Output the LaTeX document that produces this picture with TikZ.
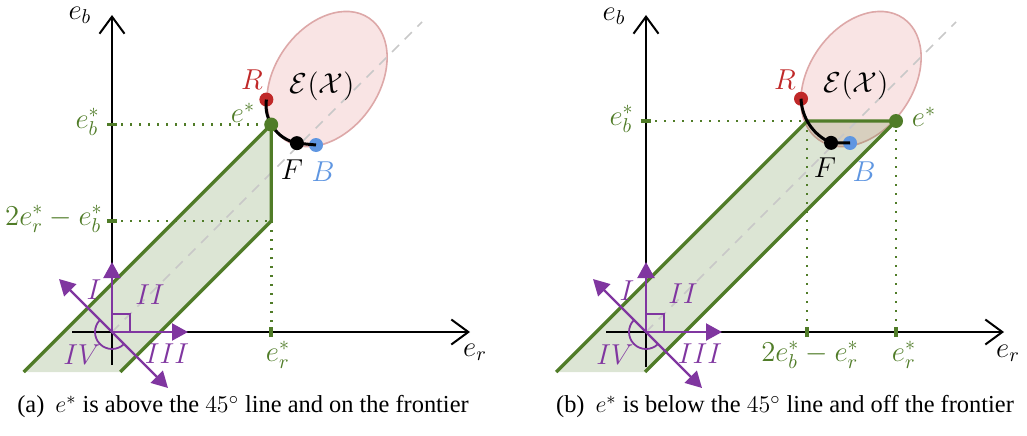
\documentclass[tikz,border=0pt]{standalone}
\usepackage[no-math]{fontspec}
\setmainfont{Liberation Serif}
\usetikzlibrary{arrows.meta,shapes.geometric}
\definecolor{egreen}{RGB}{80,124,40}
\definecolor{ered}{RGB}{192,40,40}
\definecolor{eblue}{RGB}{95,150,225}
\definecolor{epurple}{RGB}{128,54,160}
\definecolor{epinkfill}{RGB}{249,228,228}
\definecolor{epinkdraw}{RGB}{221,168,168}
\definecolor{egray}{RGB}{200,200,200}
\begin{document}
\begin{tikzpicture}[x=0.5pt,y=0.5pt,
  axisline/.style={line width=1pt,-{Straight Barb[length=8.5pt,width=12.5pt,line width=1pt]}},
  setell/.style={ellipse,draw=epinkdraw,fill=epinkfill,line width=0.8pt,rotate=55,minimum width=74pt,minimum height=52pt,inner sep=0pt},
  regfill/.style={fill=egreen,fill opacity=0.2},
  regline/.style={draw=egreen,line width=1.7pt,line join=miter},
  diag/.style={draw=egray,line width=0.8pt,dash pattern=on 5pt off 4pt},
  dotline/.style={draw=egreen,line width=1.3pt,dash pattern=on 1pt off 3.5pt},
  tickmark/.style={draw=egreen,line width=1.8pt},
  frontier/.style={draw=black,line width=1.5pt},
  pdot/.style={circle,fill=#1,inner sep=0pt,minimum size=7pt},
  parrow/.style={draw=epurple,line width=1.1pt,-{Triangle[length=8pt,width=8.5pt]}},
  pline/.style={draw=epurple,line width=0.9pt},
  lab/.style={font=\fontsize{14}{16}\selectfont,inner sep=0pt},
  plab/.style={lab,text=epurple},
  glab/.style={lab,text=egreen},
  captext/.style={font=\fontsize{12.2}{15}\selectfont,inner sep=0pt}
]
\useasboundingbox (0,0) rectangle (1027,435);

%================ panel (a) ================
\begin{scope}[shift={(112,103)}]
\coordinate (aO) at (0,0);
\node[setell] (aEll) at (215,253) {};
\coordinate (aK) at (159.2,110.9);
\coordinate (aP) at (8.3,-40);
\coordinate (aQ) at (-88.3,-40);
\coordinate (aE0) at (159.2,207.5);
\fill[regfill] (aE0) -- (aK) -- (aP) -- (aQ) -- cycle;
\draw[diag] (aO) -- (310,310);
\draw[axisline] (0,-33) -- (0,317);
\draw[axisline] (-40,0) -- (358,0);
\draw[dotline] (0,207.5) -- (aE0);
\draw[dotline] (0,110.9) -- (aK);
\draw[dotline] (aK) -- (159.2,0);
\draw[tickmark] (-5,207.5) -- (5,207.5);
\draw[tickmark] (-5,110.9) -- (5,110.9);
\draw[tickmark] (159.2,-5) -- (159.2,5);
\draw[regline] (aE0) -- (aK) -- (aP) (aQ) -- (aE0);
\node[pdot=ered] (aR) at (154.38,232.43) {};
\node[pdot=black] (aF) at (184.89,188.85) {};
\node[pdot=eblue] (aB) at (204,187) {};
\draw[frontier] (aR.center) arc[start angle=172,end angle=258,radius=19.5pt] -- (aB.center);
\node[pdot=egreen] (aE) at (aE0) {};
% purple
\draw[parrow] (aO) -- (0,70);
\draw[parrow] (aO) -- (76,0);
\draw[parrow] (aO) -- (-53,53);
\draw[parrow] (aO) -- (56,-56);
\draw[pline] (aO) rectangle (18,18);
\draw[pline] (135:17) arc[start angle=135,end angle=315,radius=8.5pt];
\node[plab] (aI) at (-18,42) {$I$};
\node[plab] (aII) at (38,37) {$II$};
\node[plab] (aIII) at (55,-22) {$III$};
\node[plab] (aIV) at (-30,-23) {$IV$};
% labels
\node[lab] (aeb) at (-32,317) {$e_b$};
\node[lab] (aer) at (363,-20) {$e_r$};
\node[lab] (aSet) at (210,246) {\fontsize{15}{17}\selectfont$\mathcal{E}(\mathcal{X})$};
\node[lab,text=ered] (aRl) at (140,252) {$R$};
\node[glab] (aEl) at (131,219) {$e^*$};
\node[lab] (aFl) at (180,162) {$F$};
\node[lab,text=eblue] (aBl) at (211,160) {$B$};
\node[glab,anchor=east] (aebs) at (-12,210) {$e_b^*$};
\node[glab,anchor=east] (a2) at (-9,113) {$2e_r^*-e_b^*$};
\node[glab,anchor=north] (aers) at (166,-9) {$e_r^*$};
\end{scope}
\node[captext] (capa) at (243,28) {(a)\hspace{0.45em}$e^*$ is above the $45^\circ$ line and on the frontier};

%================ panel (b) ================
\begin{scope}[shift={(646,103)}]
\coordinate (bO) at (0,0);
\node[setell] (bEll) at (215,253) {};
\coordinate (bL) at (161.14,211);
\coordinate (bE0) at (250,211);
\coordinate (bP) at (-1,-40);
\coordinate (bQ) at (-89.86,-40);
\fill[regfill] (bL) -- (bE0) -- (bP) -- (bQ) -- cycle;
\draw[diag] (bO) -- (310,310);
\draw[axisline] (0,-35) -- (0,317);
\draw[axisline] (-40,0) -- (358,0);
\draw[dotline] (0,211) -- (bL);
\draw[dotline] (bL) -- (161.14,0);
\draw[dotline] (bE0) -- (250,0);
\draw[tickmark] (-5,211) -- (5,211);
\draw[tickmark] (161.14,-5) -- (161.14,5);
\draw[tickmark] (250,-5) -- (250,5);
\draw[regline] (bL) -- (bE0) -- (bP) (bQ) -- (bL);
\node[pdot=ered] (bR) at (155.03,233.26) {};
\node[pdot=black] (bF) at (185.06,189.14) {};
\node[pdot=eblue] (bB) at (204,189) {};
\draw[frontier] (bR.center) arc[start angle=182,end angle=246.5,radius=25pt] -- (bB.center);
\node[pdot=egreen] (bE) at (bE0) {};
% purple
\draw[parrow] (bO) -- (0,70);
\draw[parrow] (bO) -- (76,0);
\draw[parrow] (bO) -- (-53,53);
\draw[parrow] (bO) -- (56,-56);
\draw[pline] (bO) rectangle (18,18);
\draw[pline] (135:17) arc[start angle=135,end angle=315,radius=8.5pt];
\node[plab] (bI) at (-19,41) {$I$};
\node[plab] (bII) at (37,38) {$II$};
\node[plab] (bIII) at (54,-22) {$III$};
\node[plab] (bIV) at (-31,-23) {$IV$};
% labels
\node[lab] (beb) at (-32,316) {$e_b$};
\node[lab] (ber) at (362,-21) {$e_r$};
\node[lab] (bSet) at (210,247) {\fontsize{15}{17}\selectfont$\mathcal{E}(\mathcal{X})$};
\node[lab,text=ered] (bRl) at (139,252) {$R$};
\node[glab] (bEl) at (278,215) {$e^*$};
\node[lab] (bFl) at (179,164) {$F$};
\node[lab,text=eblue] (bBl) at (218,160) {$B$};
\node[glab,anchor=east] (bebs) at (-12,213) {$e_b^*$};
\node[glab,anchor=north] (b2) at (164,-9) {$2e_b^*-e_r^*$};
\node[glab,anchor=north] (bers) at (258,-9) {$e_r^*$};
\end{scope}
\node[captext] (capb) at (785,28) {(b)\hspace{0.45em}$e^*$ is below the $45^\circ$ line and off the frontier};
\end{tikzpicture}
\end{document}
